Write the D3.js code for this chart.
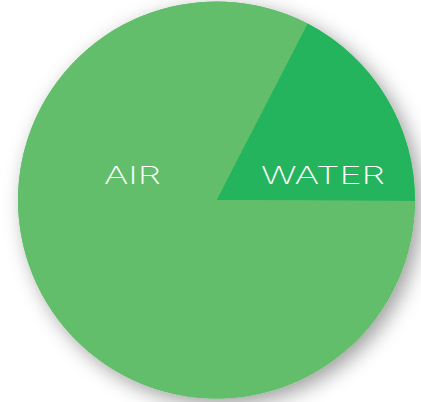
<!DOCTYPE html>
<html>
<head>
<meta charset="utf-8">
<script src="https://cdn.jsdelivr.net/npm/d3@7"></script>
<style>
html,body{margin:0;padding:0;background:#fff;}
svg{display:block;}
</style>
</head>
<body>
<svg id="chart" width="421" height="402"></svg>
<script>
const categories = ["WATER", "AIR"];
const values = [17.5, 82.5];
const colors = ["#25b45e", "#62be6a"];

const W = 421, H = 402;
const cx = 216.5, cy = 200, R = 198.5;
const startDeg = 27.3;

const svg = d3.select("#chart");
const defs = svg.append("defs");
const f = defs.append("filter").attr("id", "shadow")
  .attr("x", "-20%").attr("y", "-20%").attr("width", "140%").attr("height", "140%");
f.append("feDropShadow").attr("dx", 6).attr("dy", 6).attr("stdDeviation", 10)
  .attr("flood-color", "#000").attr("flood-opacity", 0.38);

const data = categories.map((c, i) => ({ cat: c, value: values[i], color: colors[i] }));
const pie = d3.pie().sort(null).value(d => d.value)
  .startAngle(startDeg * Math.PI / 180)
  .endAngle(startDeg * Math.PI / 180 + 2 * Math.PI);
const arcs = pie(data);
const arc = d3.arc().innerRadius(0).outerRadius(R);

const g = svg.append("g").attr("transform", `translate(${cx},${cy})`);
g.append("circle").attr("r", R).attr("fill", colors[1]).attr("filter", "url(#shadow)");
g.selectAll("path.slice").data(arcs).enter().append("path")
  .attr("class", "slice")
  .attr("d", arc)
  .attr("fill", d => d.data.color);

const labelPos = { "AIR": [132.5, 183.5, 57], "WATER": [323, 183.5, 124] };
const lg = svg.append("g");
arcs.forEach(a => {
  const p = labelPos[a.data.cat];
  lg.append("text")
    .attr("x", p[0]).attr("y", p[1])
    .attr("text-anchor", "middle")
    .attr("font-family", "Inter, 'Open Sans', 'DejaVu Sans', sans-serif")
    .attr("font-weight", 200)
    .attr("font-size", 24)
    .attr("fill", "#ffffff")
    .attr("textLength", p[2])
    .attr("lengthAdjust", "spacingAndGlyphs")
    .text(a.data.cat);
});
</script>
</body>
</html>
